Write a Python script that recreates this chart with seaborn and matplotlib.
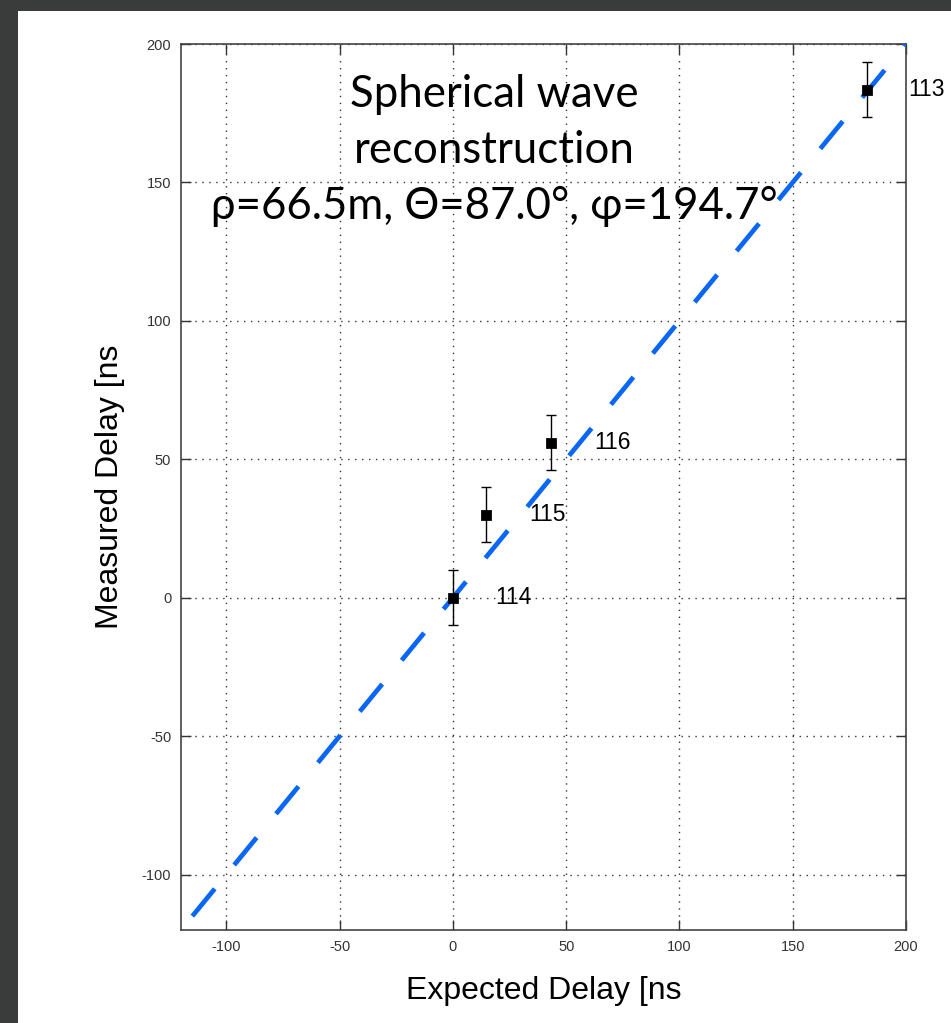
import matplotlib
matplotlib.use("Agg")
import matplotlib.pyplot as plt
import seaborn as sns
import numpy as np
import pandas as pd
from matplotlib.patches import Rectangle

# Data
antennas = ["113", "114", "115", "116"]
expected = [183.0, 0.0, 14.5, 43.5]
measured = [183.5, 0.0, 30.0, 56.0]
errors = [10.0, 10.0, 10.0, 10.0]
label_dx = [18.0, 18.5, 19.0, 19.0]
fit_x = [-115.0, 200.0]
fit_y = [-115.0, 200.0]
ticks = [-100, -50, 0, 50, 100, 150, 200]

sns.set_style("white")
plt.rcParams['font.family'] = ['Liberation Sans', 'DejaVu Sans']
plt.rcParams['axes.unicode_minus'] = False
plt.rcParams['text.color'] = 'black'
plt.rcParams['axes.labelcolor'] = 'black'

fig = plt.figure(figsize=(9.51, 10.23), dpi=100)
fig.patch.set_facecolor("#3a3c3c")
fig.add_artist(Rectangle((18/951, 0), 1 - 18/951, 1 - 11/1023,
                         transform=fig.transFigure, facecolor="white",
                         edgecolor="none", zorder=0))

ax = fig.add_axes([181/951, 93/1023, 725/951, 886/1023])
ax.set_facecolor("white")

df = pd.DataFrame({"expected": expected, "measured": measured, "err": errors, "ant": antennas})
fit = pd.DataFrame({"x": fit_x, "y": fit_y})

sns.lineplot(data=fit, x="x", y="y", ax=ax, color="#0a66f5", lw=3.4,
             dashes=False, zorder=3)
ax.lines[-1].set_dashes((7.5, 6.5))
ax.lines[-1].set_dash_capstyle("butt")

ax.errorbar(df["expected"], df["measured"], yerr=df["err"], fmt="none",
            ecolor="black", elinewidth=1.0, capsize=3.8, capthick=1.0, zorder=4)
sns.scatterplot(data=df, x="expected", y="measured", marker="s", s=48,
                color="black", edgecolor="black", ax=ax, zorder=5)

for x, y, t, dx in zip(expected, measured, antennas, label_dx):
    ax.text(x + dx, y, t, fontsize=16.5, va="center", ha="left",
            color="black", clip_on=False, zorder=6)

ax.set_xlim(-120, 200)
ax.set_ylim(-120, 200)
ax.set_xticks(ticks)
ax.set_yticks(ticks)
ax.grid(True, color="#333333", linestyle=(0, (1, 4)), linewidth=1.0)
ax.set_axisbelow(True)
ax.tick_params(direction="in", length=7, width=1, top=True, right=True,
               bottom=True, left=True, labelsize=10.5, labelcolor="#333333",
               pad=7, color="#333333")
for s in ax.spines.values():
    s.set_color("#444444")
    s.set_linewidth(1.2)

ax.set_xlabel("Expected Delay [ns", fontsize=23, labelpad=16)
ax.set_ylabel("Measured Delay [ns", fontsize=23, labelpad=12)

ax.text(0.432, 0.966, "Spherical wave\nreconstruction\nρ=66.5m, Θ=87.0°, φ=194.7°",
        transform=ax.transAxes, ha="center", va="top", fontsize=31.5,
        family=["Lato", "DejaVu Sans"], linespacing=1.45, color="black", zorder=7)

fig.savefig("out.png", dpi=100, facecolor=fig.get_facecolor())
